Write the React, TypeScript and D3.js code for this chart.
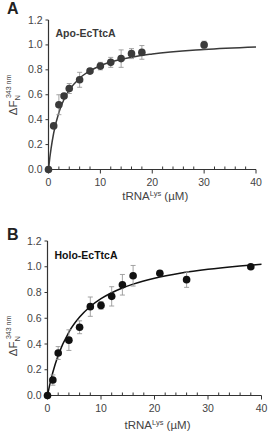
import React from "react";
import * as d3 from "d3";

// Panel A (Apo-EcTtcA) data
const apoX = [0, 1, 2, 3, 4, 6, 8, 10, 12, 14, 16, 18, 30];
const apoY = [0, 0.35, 0.52, 0.59, 0.65, 0.72, 0.79, 0.83, 0.86, 0.89, 0.93, 0.94, 1.0];
const apoErr = [0, 0, 0.08, 0.02, 0.04, 0.06, 0.02, 0.03, 0.04, 0.07, 0.04, 0.055, 0.03];
const apoFitX = [0, 0.25, 0.5, 1, 2, 3, 4, 6, 8, 10, 14, 20, 30, 40];
const apoFitY = [0, 0.093, 0.17, 0.293, 0.458, 0.564, 0.637, 0.733, 0.792, 0.833, 0.884, 0.928, 0.964, 0.984];

// Panel B (Holo-EcTtcA) data
const holoX = [0, 1, 2, 4, 6, 8, 10, 12, 14, 16, 21, 26, 38];
const holoY = [0, 0.12, 0.33, 0.43, 0.53, 0.69, 0.70, 0.77, 0.86, 0.93, 0.95, 0.90, 1.0];
const holoErr = [0, 0.04, 0.05, 0.08, 0.05, 0.075, 0.03, 0.075, 0.08, 0.08, 0.02, 0.06, 0];
const holoFitX = [0, 0.5, 1, 2, 4, 6, 8, 10, 12, 14, 16, 20, 25, 30, 35, 40];
const holoFitY = [0, 0.098, 0.181, 0.313, 0.493, 0.609, 0.691, 0.752, 0.798, 0.835, 0.865, 0.911, 0.951, 0.98, 1.002, 1.019];

const yTicks = [0, 0.2, 0.4, 0.6, 0.8, 1.0, 1.2];
const xMajor = [0, 10, 20, 30, 40];
const xMinor = [2, 4, 6, 8, 12, 14, 16, 18, 22, 24, 26, 28, 32, 34, 36, 38];

const FONT = "'Liberation Sans', Arial, Helvetica, sans-serif";

type PanelProps = {
  letter: string;
  title: string;
  xs: number[];
  ys: number[];
  errs: number[];
  fitX: number[];
  fitY: number[];
  x0: number;
  x1: number;
  yBottom: number;
  yTop: number;
  color: string;
  titleColor: string;
  letterY: number;
  titleY: number;
  yLabelCenter: number;
  xLabelY: number;
  xTickLabelY: number;
};

function Panel(p: PanelProps) {
  const x = d3.scaleLinear().domain([0, 40]).range([p.x0, p.x1]);
  const y = d3.scaleLinear().domain([0, 1.2]).range([p.yBottom, p.yTop]);
  const line = d3
    .line<number>()
    .x((_, i) => x(p.fitX[i]))
    .y((d) => y(d))
    .curve(d3.curveMonotoneX);
  const axisColor = "#333";
  const labelColor = "#444";
  return (
    <g fontFamily={FONT}>
      <text x={7} y={p.letterY} fontSize={16} fontWeight="bold" fill="#222">
        {p.letter}
      </text>
      {/* y axis */}
      <line x1={p.x0} x2={p.x0} y1={y(0)} y2={y(1.2)} stroke={axisColor} strokeWidth={1.2} />
      {yTicks.map((t) => (
        <g key={"y" + t}>
          <line x1={p.x0 - 3} x2={p.x0} y1={y(t)} y2={y(t)} stroke={axisColor} strokeWidth={1} />
          <text x={p.x0 - 6} y={y(t) + 3.5} fontSize={10.5} textAnchor="end" fill={labelColor}>
            {t.toFixed(1)}
          </text>
        </g>
      ))}
      {/* x axis */}
      <line x1={p.x0} x2={p.x1} y1={p.yBottom} y2={p.yBottom} stroke={axisColor} strokeWidth={1.2} />
      {xMajor.map((t) => (
        <g key={"x" + t}>
          <line x1={x(t)} x2={x(t)} y1={p.yBottom} y2={p.yBottom + 4} stroke={axisColor} strokeWidth={1} />
          <text x={x(t)} y={p.xTickLabelY} fontSize={10.5} textAnchor="middle" fill={labelColor}>
            {t}
          </text>
        </g>
      ))}
      {xMinor.map((t) => (
        <line key={"m" + t} x1={x(t)} x2={x(t)} y1={p.yBottom} y2={p.yBottom - 3} stroke={axisColor} strokeWidth={1} />
      ))}
      {/* axis labels */}
      <text
        transform={`translate(17,${p.yLabelCenter}) rotate(-90)`}
        fontSize={11.5}
        textAnchor="middle"
        fill={labelColor}
      >
        ΔF
        <tspan fontSize={7.5} dy={3}>N</tspan>
        <tspan fontSize={7} dx={-3} dy={-9}>343 nm</tspan>
      </text>
      <text x={(p.x0 + p.x1) / 2 + 3} y={p.xLabelY} fontSize={11.5} textAnchor="middle" fill={labelColor}>
        tRNA
        <tspan fontSize={7.5} dy={-4}>Lys</tspan>
        <tspan dy={4}> (µM)</tspan>
      </text>
      <text x={p.x0 + 7} y={p.titleY} fontSize={10.5} fontWeight="bold" fill={p.titleColor}>
        {p.title}
      </text>
      {/* fit curve */}
      <path d={line(p.fitY) || ""} fill="none" stroke={p.color} strokeWidth={1.5} />
      {/* error bars */}
      {p.xs.map((xv, i) =>
        p.errs[i] > 0 ? (
          <g key={"e" + i} stroke="#999" strokeWidth={0.9}>
            <line x1={x(xv)} x2={x(xv)} y1={y(p.ys[i] - p.errs[i])} y2={y(p.ys[i] + p.errs[i])} />
            <line x1={x(xv) - 2.5} x2={x(xv) + 2.5} y1={y(p.ys[i] - p.errs[i])} y2={y(p.ys[i] - p.errs[i])} />
            <line x1={x(xv) - 2.5} x2={x(xv) + 2.5} y1={y(p.ys[i] + p.errs[i])} y2={y(p.ys[i] + p.errs[i])} />
          </g>
        ) : null
      )}
      {/* points */}
      {p.xs.map((xv, i) => (
        <circle key={"c" + i} cx={x(xv)} cy={y(p.ys[i])} r={3.8} fill={p.color} />
      ))}
    </g>
  );
}

export default function App() {
  return (
    <svg width={268} height={440} style={{ position: "absolute", left: 0, top: 0, background: "#fff" }}>
      <rect width={268} height={440} fill="#fff" />
      <Panel
        letter="A"
        title="Apo-EcTtcA"
        xs={apoX}
        ys={apoY}
        errs={apoErr}
        fitX={apoFitX}
        fitY={apoFitY}
        x0={48.5}
        x1={256}
        yBottom={169.5}
        yTop={20}
        color="#3a3a3a"
        titleColor="#3a3a3a"
        letterY={14}
        titleY={37}
        yLabelCenter={95}
        xLabelY={200}
        xTickLabelY={186}
      />
      <Panel
        letter="B"
        title="Holo-EcTtcA"
        xs={holoX}
        ys={holoY}
        errs={holoErr}
        fitX={holoFitX}
        fitY={holoFitY}
        x0={47.5}
        x1={261.5}
        yBottom={395.5}
        yTop={241}
        color="#111"
        titleColor="#111"
        letterY={240}
        titleY={259}
        yLabelCenter={336}
        xLabelY={429}
        xTickLabelY={412}
      />
    </svg>
  );
}
